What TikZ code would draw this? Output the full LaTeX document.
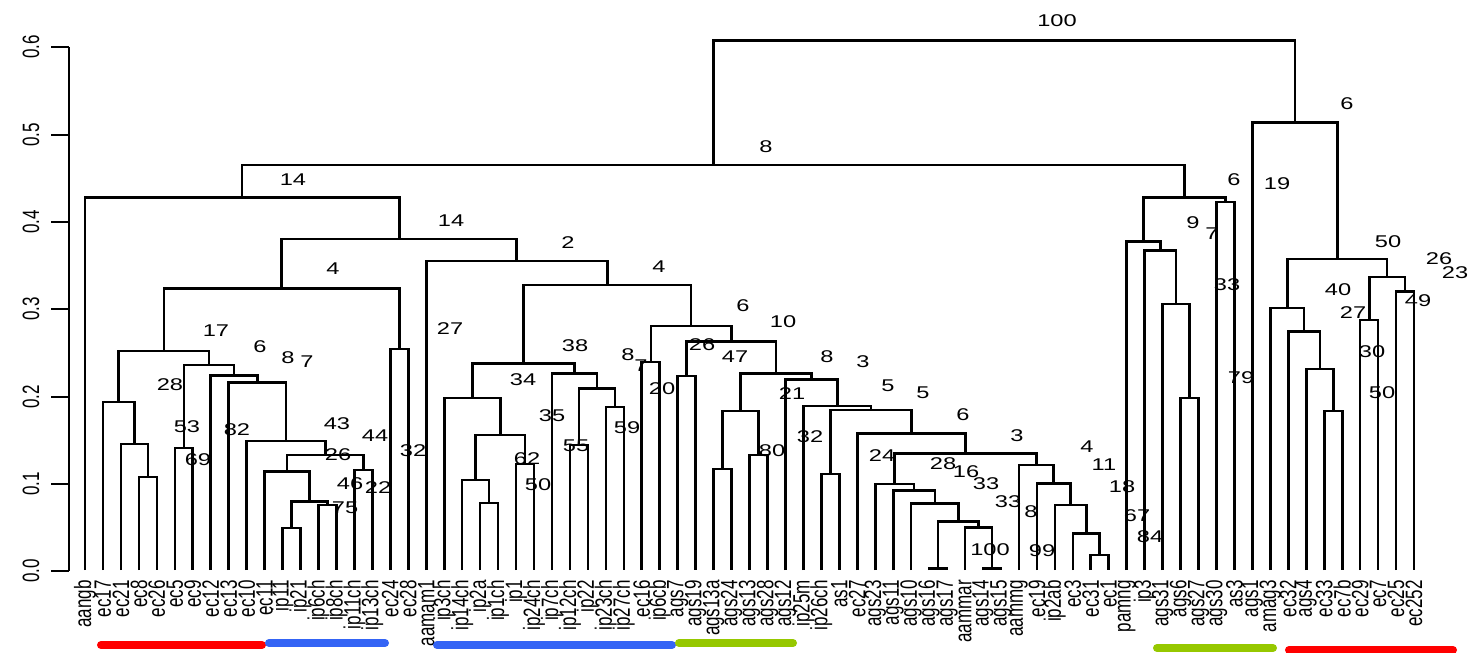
\documentclass[tikz,border=0pt]{standalone}
\usepackage{fontspec}
\setmainfont{Liberation Sans}
\newcommand\hstr[1]{\scalebox{1.39}[1]{#1}}
\newcommand\vstr[1]{\scalebox{1.39}[1]{\rotatebox{90}{#1}}}
\definecolor{barred}{RGB}{255,0,0}
\definecolor{barblue}{RGB}{52,100,245}
\definecolor{bargreen}{RGB}{150,200,0}
\begin{document}
\begin{tikzpicture}[x=1pt,y=-1pt,
  tree/.style={line width=2.6pt, line join=miter},
  boot/.style={inner sep=0pt, font=\fontsize{17}{20}\selectfont},
  leaflab/.style={inner sep=0pt, anchor=north, font=\fontsize{17}{20}\selectfont},
  ticklab/.style={inner sep=0pt, font=\fontsize{17}{20}\selectfont},
  axisline/.style={line width=2.6pt},
  bar/.style={line width=8pt, line cap=round}]
\useasboundingbox[fill=white] (0,0) rectangle (1470,653);

% axis
\draw[axisline] (69,47) -- (69,571);
\foreach \v/\yy in {0.0/571,0.1/484,0.2/397,0.3/309,0.4/222,0.5/135,0.6/47}{
  \draw[axisline] (51,\yy) -- (69,\yy);
  \node[ticklab] (tick\v) at (31,\yy) {\vstr{\v}};
}

% leaves
\foreach \i/\nm in {0/aangb,1/ec17,2/ec21,3/ec8,4/ec26,5/ec5,6/ec9,7/ec12,8/ec13,9/ec10,10/ec11,11/ip11,12/ip21,13/ip6ch,14/ip8ch,15/ip11ch,16/ip13ch,17/ec24,18/ec28,19/aamam1,20/ip3ch,21/ip14ch,22/ip2a,23/ip1ch,24/ip1,25/ip24ch,26/ip7ch,27/ip12ch,28/ip22,29/ip23ch,30/ip27ch,31/ec16,32/ip6cb,33/ags7,34/ags19,35/ags13a,36/ags24,37/ags13,38/ags28,39/ags12,40/ip25m,41/ip26ch,42/as1,43/ec27,44/ags23,45/ags11,46/ags10,47/ags16,48/ags17,49/aammar,50/ags14,51/ags15,52/aammg,53/ec19,54/ip2ab,55/ec3,56/ec31,57/ec1,58/pamng,59/ip3,60/ags31,61/ags6,62/ags27,63/ags30,64/as3,65/ags1,66/amag3,67/ec32,68/ags4,69/ec33,70/ec7b,71/ec29,72/ec7,73/ec25,74/ec252}{
  \coordinate (L\i) at ({85+17.96*\i},570);
  \node[leaflab] (T\i) at ({85+17.96*\i},580) {\vstr{\nm}};
}

% internal nodes (x, height)
\coordinate (n34) at (147.85,477);
\coordinate (n234) at (134.4,444);
\coordinate (n1) at (118.7,402);
\coordinate (n56) at (183.8,448);
\coordinate (n1112) at (291.5,528);
\coordinate (n1314) at (327.5,505);
\coordinate (nA) at (309.5,501.7);
\coordinate (nB) at (287,471.7);
\coordinate (n1516) at (363.5,470);
\coordinate (nC) at (325.2,455);
\coordinate (nD) at (285.9,441);
\coordinate (nE) at (257.3,382.3);
\coordinate (nF) at (234,375.7);
\coordinate (nG) at (208.9,365);
\coordinate (nH) at (163.8,351);
\coordinate (n1718) at (399.3,349);
\coordinate (nI) at (281.6,288.3);
\coordinate (n2223) at (489.1,503);
\coordinate (n21) at (475.7,480);
\coordinate (n2425) at (525,464);
\coordinate (nJ) at (500.3,435);
\coordinate (nK) at (472.3,398);
\coordinate (n2728) at (578.9,445);
\coordinate (n2930) at (614.8,407);
\coordinate (nL) at (596.9,388.3);
\coordinate (nM) at (574.5,373.3);
\coordinate (nN) at (523.4,363.3);
\coordinate (n3132) at (650.8,362);
\coordinate (n3334) at (686.6,376);
\coordinate (n3536) at (722.6,469);
\coordinate (n3738) at (758.5,455);
\coordinate (nO) at (740.6,411);
\coordinate (n4142) at (830.4,474);
\coordinate (n4748) at (938.1,568.3);
\coordinate (n5051) at (992,568.3);
\coordinate (nP) at (978.5,527.3);
\coordinate (nQ) at (958.3,521.7);
\coordinate (nR) at (934.8,503.3);
\coordinate (nS) at (914,490.7);
\coordinate (nT) at (894.6,484);
\coordinate (n5657) at (1099.7,555);
\coordinate (nU) at (1086.3,533.3);
\coordinate (nV) at (1070.5,505);
\coordinate (nW) at (1053.7,483.3);
\coordinate (nX) at (1036.3,465);
\coordinate (nY) at (965.5,453.3);
\coordinate (nZ) at (911.4,433.3);
\coordinate (nAA) at (870.9,410);
\coordinate (nAB) at (837.2,406);
\coordinate (nAC) at (811.3,379.3);
\coordinate (nAD) at (776,373.3);
\coordinate (nAE) at (731.3,341.7);
\coordinate (nAF) at (691,326);
\coordinate (nAG) at (607.2,285);
\coordinate (nAH) at (516.7,261);
\coordinate (nAI) at (399.2,239);
\coordinate (nAJ) at (242.1,197.7);
\coordinate (n6162) at (1189.6,398);
\coordinate (nAK) at (1176.1,304);
\coordinate (nAL) at (1160.4,250.7);
\coordinate (nAM) at (1143.5,241.7);
\coordinate (n6364) at (1225.5,202);
\coordinate (nAN) at (1184.5,197.7);
\coordinate (nAO) at (713.3,165);
\coordinate (n6970) at (1333.2,411);
\coordinate (nAP) at (1319.8,369);
\coordinate (nAQ) at (1304,331.7);
\coordinate (nAR) at (1287.2,308);
\coordinate (n7172) at (1369.2,320);
\coordinate (n7374) at (1405,291.5);
\coordinate (nAS) at (1387.1,277);
\coordinate (nAT) at (1337.2,259);
\coordinate (nAU) at (1294.8,122.3);
\coordinate (root) at (1004,40.3);

% merges: child A, parent, child B
\foreach \a/\p/\b in {L3/n34/L4, L2/n234/n34, L1/n1/n234, L5/n56/L6,
  L11/n1112/L12, L13/n1314/L14, n1112/nA/n1314, L10/nB/nA, L15/n1516/L16,
  nB/nC/n1516, L9/nD/nC, L8/nE/nD, L7/nF/nE, n56/nG/nF, n1/nH/nG,
  L17/n1718/L18, nH/nI/n1718,
  L22/n2223/L23, L21/n21/n2223, L24/n2425/L25, n21/nJ/n2425, L20/nK/nJ,
  L27/n2728/L28, L29/n2930/L30, n2728/nL/n2930, L26/nM/nL, nK/nN/nM,
  L31/n3132/L32, L33/n3334/L34, L35/n3536/L36, L37/n3738/L38, n3536/nO/n3738,
  L41/n4142/L42, L47/n4748/L48, L50/n5051/L51, L49/nP/n5051, n4748/nQ/nP,
  L46/nR/nQ, L45/nS/nR, L44/nT/nS, L56/n5657/L57, L55/nU/n5657, L54/nV/nU,
  L53/nW/nV, L52/nX/nW, nT/nY/nX, L43/nZ/nY, n4142/nAA/nZ, L40/nAB/nAA,
  L39/nAC/nAB, nO/nAD/nAC, n3334/nAE/nAD, n3132/nAF/nAE, nN/nAG/nAF,
  L19/nAH/nAG, nI/nAI/nAH, L0/nAJ/nAI,
  L61/n6162/L62, L60/nAK/n6162, L59/nAL/nAK, L58/nAM/nAL, L63/n6364/L64,
  nAM/nAN/n6364, nAJ/nAO/nAN,
  L69/n6970/L70, L68/nAP/n6970, L67/nAQ/nAP, L66/nAR/nAQ, L71/n7172/L72,
  L73/n7374/L74, n7172/nAS/n7374, nAR/nAT/nAS, L65/nAU/nAT, nAO/root/nAU}{
  \draw[tree] (\a) |- (\p) -| (\b);
}

% bootstrap values
\foreach \t/\xx/\yy [count=\k] in {100/1057/21, 8/766/147, 14/293/180, 14/451/221,
  4/333/269, 17/216/331, 27/450/329, 2/568/243, 4/659/267, 6/743/306, 10/783/322,
  6/1347/104, 6/1234/180, 19/1277/184, 9/1193/223, 7/1212/234, 33/1227/285,
  50/1388/242, 26/1439/259, 23/1455/273, 40/1338/290, 27/1353/313, 49/1418/301,
  30/1372/352, 50/1382/393, 79/1241/378, 38/575/346, 34/523/380, 8/628/355,
  7/641/366, 20/662/389, 26/702/345, 47/735/357, 35/552/416, 55/576/446,
  59/627/428, 62/527/459, 50/538/485, 80/772/451, 21/792/394, 8/827/357,
  3/863/362, 32/810/437, 5/888/386, 5/923/393, 24/882/456, 6/963/415,
  28/943/464, 16/966/472, 33/986/484, 33/1008/502, 8/1031/512, 100/990/550,
  99/1042/551, 3/1017/436, 4/1087/447, 11/1104/465, 18/1122/487, 67/1137/516,
  84/1150/537, 6/260/347, 8/288/358, 7/307/362, 28/170/385, 53/187/427,
  69/198/460, 82/237/430, 43/337/424, 44/375/436, 32/413/451, 26/338/455,
  46/350/484, 22/378/488, 75/345/508}{
  \node[boot] (b\k) at (\xx,\yy) {\hstr{\t}};
}

% group bars
\draw[bar, barred] (101,645) -- (262,645);
\draw[bar, barblue] (269,643) -- (385,643);
\draw[bar, barblue] (437,645) -- (672,645);
\draw[bar, bargreen] (679,643) -- (793,643);
\draw[bar, bargreen] (1157,648) -- (1273,648);
\draw[bar, barred] (1289,650) -- (1453,650);
\end{tikzpicture}
\end{document}
